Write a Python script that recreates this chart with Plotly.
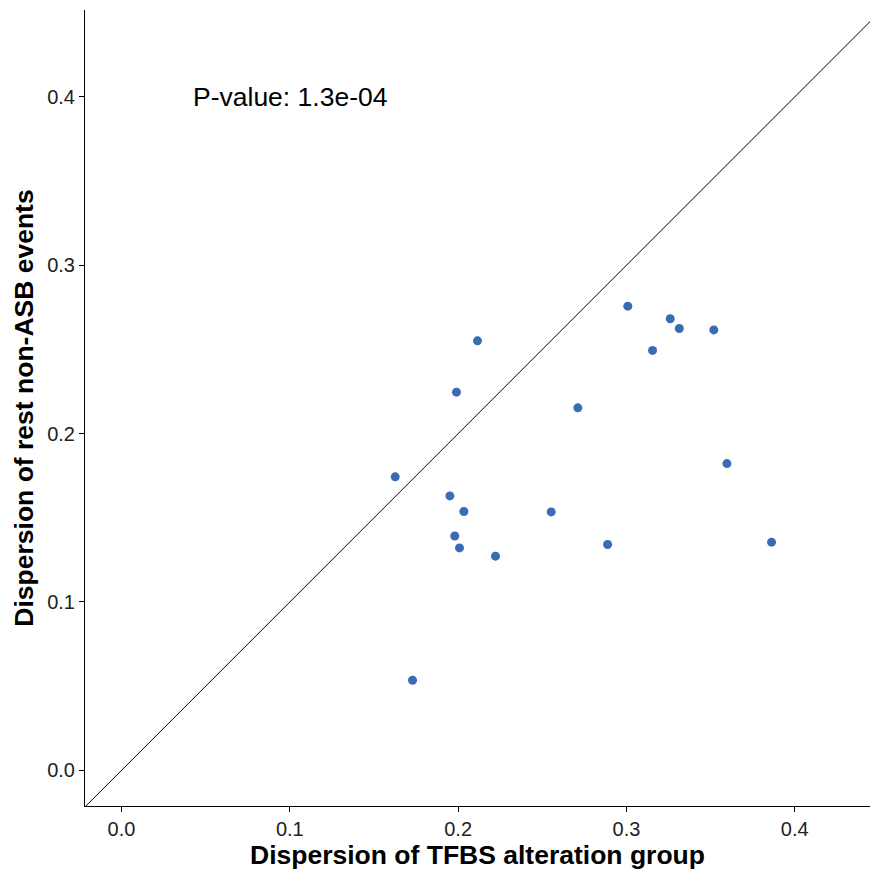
import plotly.graph_objects as go

# Data
tfbs_dispersion = [0.1626, 0.1729, 0.1951, 0.1980, 0.1990, 0.2008, 0.2034, 0.2115, 0.2222,
                   0.2553, 0.2711, 0.2888, 0.3008, 0.3155, 0.3260, 0.3314, 0.3519, 0.3597, 0.3862]
rest_dispersion = [0.1743, 0.0535, 0.1630, 0.1392, 0.2246, 0.1321, 0.1537, 0.2551, 0.1272,
                   0.1535, 0.2153, 0.1341, 0.2757, 0.2494, 0.2682, 0.2624, 0.2616, 0.1822, 0.1355]
diag = [-0.1, 0.6]
tick_vals = [0.0, 0.1, 0.2, 0.3, 0.4]
tick_text = ["0.0", "0.1", "0.2", "0.3", "0.4"]
pvalue_label = "P-value: 1.3e-04"

fig = go.Figure()
fig.add_trace(go.Scatter(x=diag, y=diag, mode="lines",
                         line=dict(color="black", width=1), hoverinfo="skip", showlegend=False))
fig.add_trace(go.Scatter(x=tfbs_dispersion, y=rest_dispersion, mode="markers",
                         marker=dict(color="#3a6cb4", size=9), showlegend=False))

fig.add_annotation(x=0.1, y=0.4, xref="x", yref="y", text=pvalue_label, showarrow=False,
                   font=dict(family="Liberation Sans", size=26.5, color="black"),
                   xanchor="center", yanchor="middle")

axis_common = dict(
    showgrid=False, zeroline=False, showline=True, linecolor="black", linewidth=1,
    ticks="outside", ticklen=5, tickcolor="black", tickwidth=1,
    tickfont=dict(family="Liberation Sans", size=20, color="#222222"),
    tickvals=tick_vals, ticktext=tick_text,
)

fig.update_layout(
    width=870, height=871,
    margin=dict(l=85, r=0, t=10, b=65),
    plot_bgcolor="white", paper_bgcolor="white",
    xaxis=dict(range=[-0.0217, 0.4447],
               title=dict(text="<b>Dispersion of TFBS alteration group</b>", standoff=5,
                          font=dict(family="Liberation Sans", size=26.5, color="black")),
               **axis_common),
    yaxis=dict(range=[-0.0212, 0.4516],
               title=dict(text="<b>Dispersion of rest non-ASB events</b>", standoff=5,
                          font=dict(family="Liberation Sans", size=26.5, color="black")),
               **axis_common),
)

fig.write_html("out.html")
